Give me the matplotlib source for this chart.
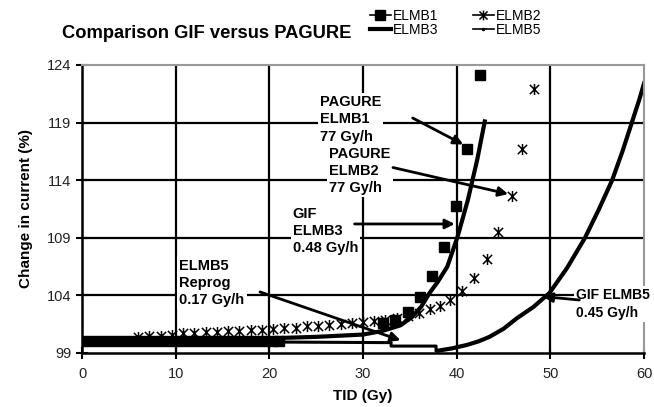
"""Comparison GIF versus PAGURE: change in current vs TID for ELMB boards."""

import matplotlib
matplotlib.use("Agg")
import matplotlib.pyplot as plt
from matplotlib.lines import Line2D
from matplotlib.path import Path

plt.rcParams["font.family"] = ["Liberation Sans", "DejaVu Sans"]

# ---------------------------------------------------------------------------
# Data
# ---------------------------------------------------------------------------
elmb1_x = [0, 1.07, 2.14, 3.21, 4.28, 5.35, 6.42, 7.49, 8.56, 9.63, 10.7, 11.77,
           12.84, 13.91, 14.98, 16.05, 17.12, 18.19, 19.26, 20.33, 21.0,
           32.1, 33.4, 34.8, 36.1, 37.4, 38.6, 39.9, 41.1, 42.5]
elmb1_y = [100.0, 100.0, 100.0, 100.0, 100.0, 100.0, 100.0, 100.0, 100.0, 100.0,
           100.0, 100.0, 100.0, 100.0, 100.0, 100.0, 100.0, 100.0, 100.05, 100.05,
           100.05, 101.6, 101.9, 102.6, 103.9, 105.7, 108.2, 111.8, 116.7, 123.1]

elmb2_x = [6.0, 7.2, 8.4, 9.6, 10.8, 12.0, 13.2, 14.4, 15.6, 16.8, 18.0, 19.2,
           20.4, 21.6, 22.8, 24.0, 25.2, 26.4, 27.6, 28.8, 30.0, 31.2, 32.4,
           33.6, 34.8, 36.0, 37.2, 38.2, 39.3, 40.6, 41.9, 43.2, 44.4, 45.9,
           47.0, 48.3]
elmb2_y = [100.4, 100.45, 100.5, 100.55, 100.7, 100.7, 100.8, 100.8, 100.9, 100.9,
           101.0, 101.0, 101.1, 101.15, 101.2, 101.3, 101.3, 101.4, 101.5, 101.6,
           101.7, 101.8, 101.9, 102.0, 102.2, 102.5, 102.8, 103.1, 103.6, 104.4,
           105.5, 107.2, 109.5, 112.6, 116.7, 121.9]

elmb3_x = [0, 21, 25, 30, 32, 34, 35.2, 36.2, 37.1, 38.0, 39.0, 40.1, 41.2,
           42.2, 43.0]
elmb3_y = [100.0, 100.3, 100.4, 100.6, 100.9, 101.4, 102.1, 103.0, 104.2, 105.2,
           106.5, 109.1, 112.3, 115.8, 119.1]

elmb5_x = [0, 21, 33, 33, 37.8, 37.8]
elmb5_y = [100.0, 99.95, 99.9, 99.6, 99.6, 99.2]

gif5_x = [38.0, 39.5, 41.1, 42.3, 43.5, 45.0, 46.4, 48.2, 49.9, 51.8, 53.7,
          55.2, 56.6, 57.7, 58.7, 59.5, 60.0]
gif5_y = [99.2, 99.4, 99.7, 100.0, 100.4, 101.1, 102.0, 103.0, 104.2, 106.4,
          109.0, 111.5, 114.0, 116.5, 119.0, 121.0, 122.4]

# annotations: text, text anchor (x, y), arrow start, arrow end
notes = [
    ("PAGURE\nELMB1\n77 Gy/h", (25.4, 121.4), (35.3, 119.4), (40.7, 117.1)),
    ("PAGURE\nELMB2\n77 Gy/h", (26.4, 116.9), (33.2, 115.1), (45.5, 112.8)),
    ("GIF\nELMB3\n0.48 Gy/h", (22.5, 111.7), (29.1, 110.2), (39.8, 110.2)),
    ("ELMB5\nReprog\n0.17 Gy/h", (10.4, 107.2), (19.0, 104.3), (34.0, 100.1)),
    ("GIF ELMB5\n0.45 Gy/h", (52.7, 104.6), (53.1, 103.6), (49.2, 103.9)),
]

# asterisk marker: an X with a vertical bar through it
STAR = Path([(-1, -1), (1, 1), (-1, 1), (1, -1), (0, -1.2), (0, 1.2)],
            [Path.MOVETO, Path.LINETO, Path.MOVETO, Path.LINETO,
             Path.MOVETO, Path.LINETO])

# ---------------------------------------------------------------------------
# Plot
# ---------------------------------------------------------------------------
fig = plt.figure(figsize=(6.54, 4.07), dpi=100)
ax = fig.add_axes([0.1254, 0.1327, 0.8593, 0.7076])

for gx in [10, 20, 30, 40, 50]:
    ax.axvline(gx, color="black", lw=1.6, zorder=1)
for gy in [104, 109, 114, 119]:
    ax.axhline(gy, color="black", lw=1.6, zorder=1)

ax.plot(elmb5_x, elmb5_y, "-", color="black", lw=2.2, zorder=2)
ax.plot(gif5_x, gif5_y, "-", color="black", lw=3, zorder=2)
ax.plot(elmb3_x, elmb3_y, "-", color="black", lw=3, zorder=3)
ax.plot(elmb2_x, elmb2_y, linestyle="none", marker=STAR, markersize=8,
        markeredgewidth=1.1, color="black", zorder=4)
ax.plot(elmb1_x, elmb1_y, linestyle="none", marker="s", markersize=7.5,
        color="black", zorder=4)

for i, (txt, pos, start, end) in enumerate(notes):
    size = 10 if i == len(notes) - 1 else 10.5
    ax.text(pos[0], pos[1], txt, fontsize=size, fontweight="bold", va="top",
            ha="left", linespacing=1.3, zorder=5, clip_on=False,
            bbox=dict(facecolor="white", edgecolor="none", pad=1.5))
    ax.annotate("", xy=end, xytext=start, zorder=6,
                arrowprops=dict(arrowstyle="-|>", color="black", lw=2,
                                mutation_scale=14, shrinkA=0, shrinkB=0))

ax.set_xlim(0, 60)
ax.set_ylim(99, 124)
ax.set_xticks(range(0, 61, 10))
ax.set_yticks([99, 104, 109, 114, 119, 124])
ax.tick_params(direction="inout", length=8, width=1.5, labelsize=10.5,
               colors="black", labelcolor="#222222")
ax.tick_params(axis="x", pad=6)
for side in ["top", "right"]:
    ax.spines[side].set_color("#999999")
    ax.spines[side].set_linewidth(1.5)
for side in ["left", "bottom"]:
    ax.spines[side].set_linewidth(1.8)

ax.set_xlabel("TID (Gy)", fontsize=11, fontweight="bold", labelpad=6)
ax.set_ylabel("Change in current (%)", fontsize=11, fontweight="bold", labelpad=10)

fig.text(0.095, 0.918, "Comparison GIF versus PAGURE", fontsize=13.2,
         fontweight="bold", va="center", ha="left")

handles = [
    Line2D([], [], color="black", lw=1.2, marker="s", markersize=7),
    Line2D([], [], color="black", lw=3),
    Line2D([], [], color="black", lw=1.2, marker=STAR, markersize=7,
           markeredgewidth=1.1),
    Line2D([], [], color="black", lw=1.2, marker=".", markersize=3),
]
fig.legend(handles, ["ELMB1", "ELMB3", "ELMB2", "ELMB5"],
           ncol=2, loc="center left", bbox_to_anchor=(0.555, 0.943), frameon=False,
           fontsize=10, handlelength=1.5, handletextpad=0.15, columnspacing=2.5,
           labelspacing=0.0, borderpad=0)

fig.savefig("out.png", dpi=100)
